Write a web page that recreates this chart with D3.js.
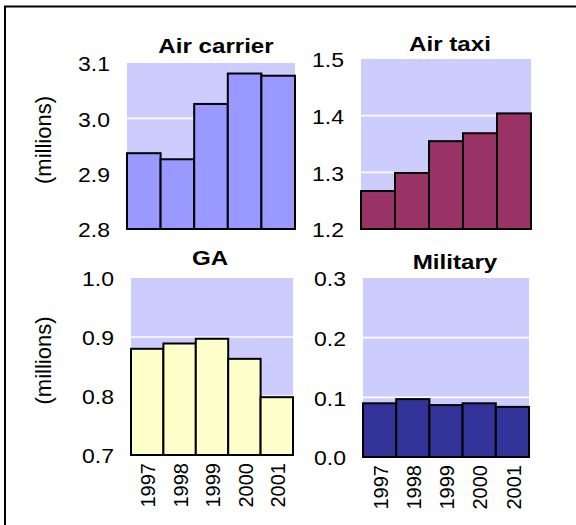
<!DOCTYPE html>
<html>
<head>
<meta charset="utf-8">
<script src="https://cdn.jsdelivr.net/npm/d3@7/dist/d3.min.js"></script>
<style>
  html, body { margin: 0; padding: 0; background: #fff; }
  svg { display: block; font-family: "Liberation Sans", Arial, sans-serif; }
</style>
</head>
<body>
<svg id="chart" width="576" height="525"></svg>
<script>
// Operations by user category, 1997-2001 (millions)
const years = ["1997", "1998", "1999", "2000", "2001"];
const categories = ["Air carrier", "Air taxi", "GA", "Military"];
const airCarrier = [2.937, 2.926, 3.026, 3.081, 3.077];
const airTaxi    = [1.267, 1.299, 1.355, 1.369, 1.404];
const ga         = [0.880, 0.889, 0.897, 0.863, 0.798];
const military   = [0.090, 0.097, 0.087, 0.090, 0.084];
const yDomains = [[2.8, 3.1], [1.2, 1.5], [0.7, 1.0], [0.0, 0.3]];
const yTicks = [
  [2.8, 2.9, 3.0, 3.1],
  [1.2, 1.3, 1.4, 1.5],
  [0.7, 0.8, 0.9, 1.0],
  [0.0, 0.1, 0.2, 0.3]
];
const unitLabel = "(millions)";

const seriesValues = [airCarrier, airTaxi, ga, military];
const barColors = ["#9999FF", "#993366", "#FFFFCC", "#333399"];

// Plot-area boxes for the 2x2 grid
const panelBoxes = [
  { left: 127, right: 295, top: 63,  bottom: 229, titleY: 53,  titleDx: 5 },
  { left: 361, right: 531, top: 59,  bottom: 229, titleY: 51,  titleDx: 4 },
  { left: 131, right: 293, top: 278, bottom: 455, titleY: 265, titleDx: -2 },
  { left: 363, right: 529, top: 278, bottom: 457, titleY: 269, titleDx: 9 }
];

const svg = d3.select("#chart");

// outer frame (runs off the right and bottom edges)
svg.append("rect")
  .attr("x", 5).attr("y", 6.5)
  .attr("width", 640).attr("height", 640)
  .attr("fill", "none").attr("stroke", "#000").attr("stroke-width", 2);

const fmt = d3.format(".1f");
const stretch = 1.15;

categories.forEach((name, i) => {
  const box = panelBoxes[i];
  const x = d3.scaleBand().domain(years).range([box.left, box.right]).padding(0);
  const y = d3.scaleLinear().domain(yDomains[i]).range([box.bottom, box.top]);
  const g = svg.append("g").attr("class", "panel");

  // plot background
  g.append("rect")
    .attr("x", box.left).attr("y", y(yDomains[i][1]))
    .attr("width", box.right - box.left)
    .attr("height", y(yDomains[i][0]) - y(yDomains[i][1]))
    .attr("fill", "#CCCCFF");

  // gridlines at the interior ticks
  g.selectAll("line.grid")
    .data(yTicks[i].slice(1, -1))
    .join("line")
    .attr("class", "grid")
    .attr("x1", box.left).attr("x2", box.right)
    .attr("y1", d => y(d)).attr("y2", d => y(d))
    .attr("stroke", "#fff").attr("stroke-width", 1.6);

  // bars
  g.selectAll("rect.bar")
    .data(seriesValues[i].map((v, k) => ({ year: years[k], value: v })))
    .join("rect")
    .attr("class", "bar")
    .attr("x", d => x(d.year))
    .attr("width", x.bandwidth())
    .attr("y", d => y(d.value))
    .attr("height", d => y(yDomains[i][0]) - y(d.value))
    .attr("fill", barColors[i])
    .attr("stroke", "#000").attr("stroke-width", 2)
    .attr("stroke-linejoin", "miter");

  // y tick labels
  g.selectAll("text.tick")
    .data(yTicks[i])
    .join("text")
    .attr("class", "tick")
    .attr("transform", d => `translate(${box.left - 17},${y(d) + 1}) scale(${stretch},1)`)
    .attr("text-anchor", "end")
    .attr("dy", "0.36em")
    .attr("font-size", 20)
    .attr("fill", "#000")
    .text(d => fmt(d));

  // panel title
  g.append("text")
    .attr("transform", `translate(${(box.left + box.right) / 2 + box.titleDx},${box.titleY}) scale(${stretch},1)`)
    .attr("text-anchor", "middle")
    .attr("font-size", 21)
    .attr("font-weight", "bold")
    .attr("fill", "#000")
    .text(name);

  // year labels under the bottom row
  if (i >= 2) {
    g.selectAll("text.year")
      .data(years)
      .join("text")
      .attr("class", "year")
      .attr("transform", d => `translate(${x(d) + x.bandwidth() / 2 + 1},${box.bottom + 8}) rotate(-90)`)
      .attr("text-anchor", "end")
      .attr("dy", "0.36em")
      .attr("font-size", 20)
      .attr("fill", "#000")
      .text(d => d);
  }

  // unit label on the left column
  if (i % 2 === 0) {
    g.append("text")
      .attr("transform", `translate(43,${(box.top + box.bottom) / 2 - 6}) rotate(-90)`)
      .attr("text-anchor", "middle")
      .attr("dy", "0.36em")
      .attr("font-size", 22)
      .attr("fill", "#000")
      .text(unitLabel);
  }
});
</script>
</body>
</html>
